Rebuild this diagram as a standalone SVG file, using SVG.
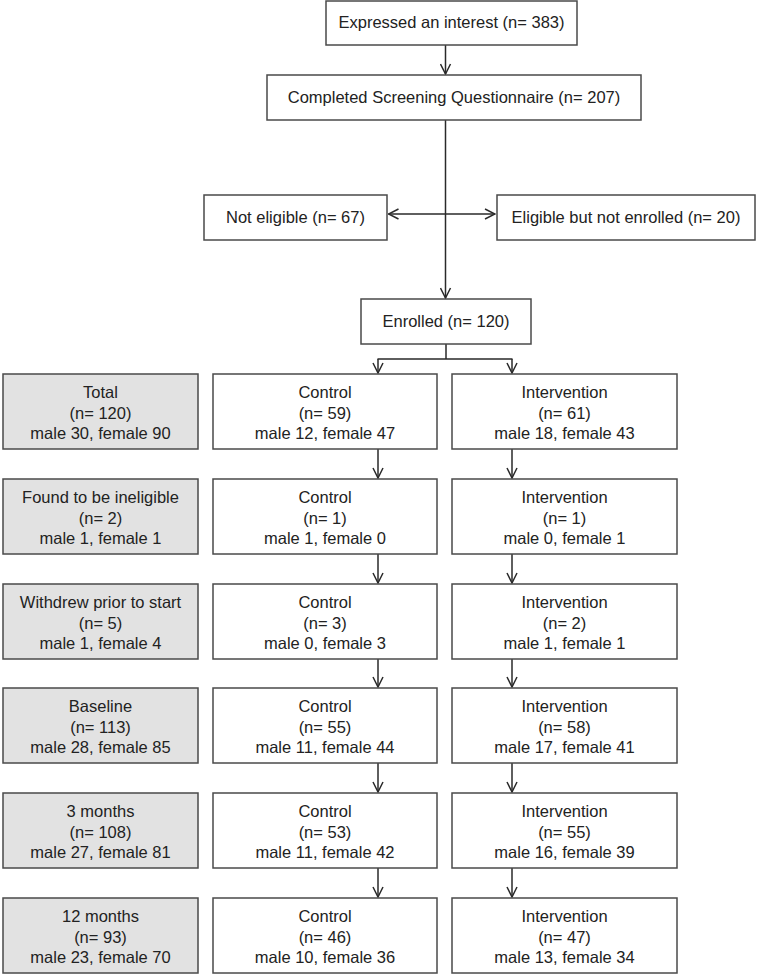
<svg xmlns="http://www.w3.org/2000/svg" width="757" height="974" viewBox="0 0 757 974">
<style>
.box{fill:#fff;stroke:#4a4a4a;stroke-width:1.5}
.g{fill:#e2e2e2}
text{font-family:"Liberation Sans",Arial,sans-serif;font-size:16.5px;fill:#222;text-anchor:middle}
.c{fill:none;stroke:#2a2a2a;stroke-width:1.5}
</style>
<defs>
<marker id="ah" viewBox="0 0 12 12" refX="11" refY="6" markerWidth="12" markerHeight="12" markerUnits="userSpaceOnUse" orient="auto">
<path d="M1,1 L11,6 L1,11" fill="none" stroke="#2a2a2a" stroke-width="1.5"/>
</marker>
</defs>
<rect width="757" height="974" fill="#fff"/>
<g id="connectors">
<line class="c" x1="445.5" y1="45" x2="445.5" y2="74" marker-end="url(#ah)"/>
<line class="c" x1="445.5" y1="120" x2="445.5" y2="298" marker-end="url(#ah)"/>
<line class="c" x1="445.5" y1="214" x2="388.5" y2="214" marker-end="url(#ah)"/>
<line class="c" x1="445.5" y1="214" x2="495" y2="214" marker-end="url(#ah)"/>
<path class="c" d="M446,344 V359 M377.5,359 H512.5"/>
<line class="c" x1="378" y1="359" x2="378" y2="373" marker-end="url(#ah)"/>
<line class="c" x1="512" y1="359" x2="512" y2="373" marker-end="url(#ah)"/>
<line class="c" x1="378" y1="449" x2="378" y2="478" marker-end="url(#ah)"/>
<line class="c" x1="512" y1="449" x2="512" y2="478" marker-end="url(#ah)"/>
<line class="c" x1="378" y1="554" x2="378" y2="583" marker-end="url(#ah)"/>
<line class="c" x1="512" y1="554" x2="512" y2="583" marker-end="url(#ah)"/>
<line class="c" x1="378" y1="659" x2="378" y2="687" marker-end="url(#ah)"/>
<line class="c" x1="512" y1="659" x2="512" y2="687" marker-end="url(#ah)"/>
<line class="c" x1="378" y1="763" x2="378" y2="792" marker-end="url(#ah)"/>
<line class="c" x1="512" y1="763" x2="512" y2="792" marker-end="url(#ah)"/>
<line class="c" x1="378" y1="868" x2="378" y2="897" marker-end="url(#ah)"/>
<line class="c" x1="512" y1="868" x2="512" y2="897" marker-end="url(#ah)"/>
</g>
<g id="interest"><rect class="box" x="326" y="1" width="251" height="44"/><text x="451.5" y="28">Expressed an interest (n= 383)</text></g>
<g id="screening"><rect class="box" x="267" y="75" width="374" height="45"/><text x="454" y="103">Completed Screening Questionnaire (n= 207)</text></g>
<g id="noteligible"><rect class="box" x="204" y="195" width="183" height="45"/><text x="295.5" y="223">Not eligible (n= 67)</text></g>
<g id="eligible"><rect class="box" x="497" y="195" width="258" height="45"/><text x="626" y="223">Eligible but not enrolled (n= 20)</text></g>
<g id="enrolled"><rect class="box" x="361" y="299" width="170" height="45"/><text x="446" y="327">Enrolled (n= 120)</text></g>

<g id="total"><rect class="box g" x="3" y="374" width="195" height="75"/><text x="100.5" y="398">Total</text><text x="100.5" y="418.5">(n= 120)</text><text x="100.5" y="439">male 30, female 90</text></g>
<g id="control1"><rect class="box" x="213" y="374" width="224" height="75"/><text x="325" y="398">Control</text><text x="325" y="418.5">(n= 59)</text><text x="325" y="439">male 12, female 47</text></g>
<g id="intervention1"><rect class="box" x="452" y="374" width="225" height="75"/><text x="564.5" y="398">Intervention</text><text x="564.5" y="418.5">(n= 61)</text><text x="564.5" y="439">male 18, female 43</text></g>

<g id="ineligible"><rect class="box g" x="3" y="479" width="195" height="75"/><text x="100.5" y="503">Found to be ineligible</text><text x="100.5" y="523.5">(n= 2)</text><text x="100.5" y="544">male 1, female 1</text></g>
<g id="control2"><rect class="box" x="213" y="479" width="224" height="75"/><text x="325" y="503">Control</text><text x="325" y="523.5">(n= 1)</text><text x="325" y="544">male 1, female 0</text></g>
<g id="intervention2"><rect class="box" x="452" y="479" width="225" height="75"/><text x="564.5" y="503">Intervention</text><text x="564.5" y="523.5">(n= 1)</text><text x="564.5" y="544">male 0, female 1</text></g>

<g id="withdrew"><rect class="box g" x="3" y="584" width="195" height="75"/><text x="100.5" y="608">Withdrew prior to start</text><text x="100.5" y="628.5">(n= 5)</text><text x="100.5" y="649">male 1, female 4</text></g>
<g id="control3"><rect class="box" x="213" y="584" width="224" height="75"/><text x="325" y="608">Control</text><text x="325" y="628.5">(n= 3)</text><text x="325" y="649">male 0, female 3</text></g>
<g id="intervention3"><rect class="box" x="452" y="584" width="225" height="75"/><text x="564.5" y="608">Intervention</text><text x="564.5" y="628.5">(n= 2)</text><text x="564.5" y="649">male 1, female 1</text></g>

<g id="baseline"><rect class="box g" x="3" y="688" width="195" height="75"/><text x="100.5" y="712">Baseline</text><text x="100.5" y="732.5">(n= 113)</text><text x="100.5" y="753">male 28, female 85</text></g>
<g id="control4"><rect class="box" x="213" y="688" width="224" height="75"/><text x="325" y="712">Control</text><text x="325" y="732.5">(n= 55)</text><text x="325" y="753">male 11, female 44</text></g>
<g id="intervention4"><rect class="box" x="452" y="688" width="225" height="75"/><text x="564.5" y="712">Intervention</text><text x="564.5" y="732.5">(n= 58)</text><text x="564.5" y="753">male 17, female 41</text></g>

<g id="months3"><rect class="box g" x="3" y="793" width="195" height="75"/><text x="100.5" y="817">3 months</text><text x="100.5" y="837.5">(n= 108)</text><text x="100.5" y="858">male 27, female 81</text></g>
<g id="control5"><rect class="box" x="213" y="793" width="224" height="75"/><text x="325" y="817">Control</text><text x="325" y="837.5">(n= 53)</text><text x="325" y="858">male 11, female 42</text></g>
<g id="intervention5"><rect class="box" x="452" y="793" width="225" height="75"/><text x="564.5" y="817">Intervention</text><text x="564.5" y="837.5">(n= 55)</text><text x="564.5" y="858">male 16, female 39</text></g>

<g id="months12"><rect class="box g" x="3" y="898" width="195" height="75"/><text x="100.5" y="922">12 months</text><text x="100.5" y="942.5">(n= 93)</text><text x="100.5" y="963">male 23, female 70</text></g>
<g id="control6"><rect class="box" x="213" y="898" width="224" height="75"/><text x="325" y="922">Control</text><text x="325" y="942.5">(n= 46)</text><text x="325" y="963">male 10, female 36</text></g>
<g id="intervention6"><rect class="box" x="452" y="898" width="225" height="75"/><text x="564.5" y="922">Intervention</text><text x="564.5" y="942.5">(n= 47)</text><text x="564.5" y="963">male 13, female 34</text></g>
</svg>
